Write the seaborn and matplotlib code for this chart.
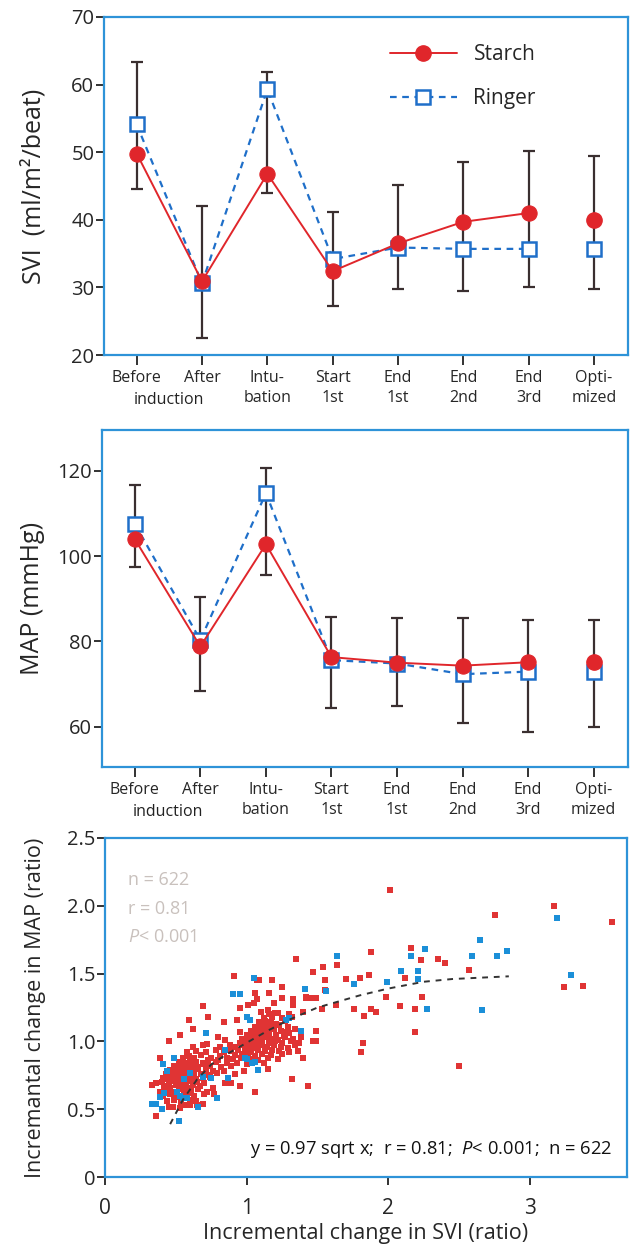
import numpy as np
import pandas as pd
import seaborn as sns
import matplotlib.pyplot as plt

# time points
time_labels = ["Before", "After", "Intu-\nbation", "Start\n1st", "End\n1st", "End\n2nd", "End\n3rd", "Opti-\nmized"]

# SVI panel
svi_starch = [49.8, 30.9, 46.8, 32.4, 36.5, 39.7, 41.0, 40.0]
svi_ringer = [54.1, 30.6, 59.3, 34.2, 35.9, 35.7, 35.7, 35.7]
svi_err_hi = [63.3, 42.0, 61.8, 41.2, 45.2, 48.5, 50.2, 49.5]
svi_err_lo = [44.5, 22.5, 44.0, 27.2, 29.7, 29.5, 30.0, 29.7]

# MAP panel
map_starch = [104.0, 78.8, 102.8, 76.3, 75.0, 74.3, 75.1, 75.1]
map_ringer = [107.6, 80.3, 114.8, 75.6, 74.8, 72.3, 72.9, 72.9]
map_err_hi = [116.7, 90.3, 120.8, 85.8, 85.4, 85.4, 85.0, 85.0]
map_err_lo = [97.5, 68.4, 95.6, 64.3, 64.8, 60.8, 58.7, 60.0]

# scatter: (SVI ratio, MAP ratio)
starch_low_cluster = [
    (0.48, 0.52), (0.53, 0.51), (0.57, 0.53), (0.66, 0.52),
    (0.44, 0.56), (0.49, 0.57), (0.54, 0.55), (0.60, 0.57), (0.64, 0.56),
    (0.41, 0.60), (0.46, 0.61), (0.50, 0.59), (0.55, 0.60), (0.59, 0.62), (0.63, 0.60), (0.70, 0.61),
    (0.39, 0.63), (0.43, 0.64), (0.47, 0.63), (0.52, 0.65), (0.56, 0.63), (0.61, 0.64), (0.66, 0.65), (0.72, 0.63),
    (0.42, 0.67), (0.46, 0.66), (0.50, 0.68), (0.54, 0.67), (0.58, 0.66), (0.62, 0.68), (0.67, 0.67), (0.76, 0.66),
    (0.36, 0.69), (0.40, 0.70), (0.45, 0.69), (0.49, 0.71), (0.53, 0.70), (0.57, 0.69), (0.61, 0.71), (0.65, 0.70), (0.70, 0.69),
    (0.41, 0.73), (0.44, 0.72), (0.48, 0.74), (0.52, 0.72), (0.56, 0.73), (0.60, 0.74), (0.64, 0.72), (0.69, 0.73), (0.74, 0.74),
    (0.43, 0.76), (0.47, 0.75), (0.51, 0.77), (0.55, 0.76), (0.59, 0.75), (0.63, 0.77), (0.68, 0.76), (0.72, 0.75), (0.79, 0.77),
    (0.46, 0.79), (0.50, 0.78), (0.54, 0.80), (0.58, 0.79), (0.62, 0.78), (0.66, 0.80), (0.71, 0.79), (0.76, 0.78),
    (0.49, 0.82), (0.53, 0.81), (0.57, 0.83), (0.61, 0.82), (0.65, 0.81), (0.70, 0.83), (0.74, 0.82), (0.82, 0.81),
    (0.52, 0.85), (0.56, 0.84), (0.60, 0.86), (0.64, 0.85), (0.69, 0.84), (0.73, 0.86), (0.78, 0.85), (0.86, 0.84),
    (0.55, 0.88), (0.59, 0.89), (0.63, 0.88), (0.68, 0.90), (0.75, 0.88), (0.81, 0.89),
    (0.58, 0.92), (0.64, 0.93), (0.71, 0.92), (0.78, 0.94), (0.84, 0.92),
    (0.62, 0.96), (0.69, 0.97), (0.81, 0.96), (0.88, 0.97),
]
starch_high_cluster = [
    (0.93, 0.84), (1.00, 0.83), (1.05, 0.85), (1.12, 0.84),
    (0.90, 0.87), (0.96, 0.88), (1.02, 0.87), (1.08, 0.86), (1.15, 0.88), (1.22, 0.87),
    (0.92, 0.90), (0.97, 0.91), (1.01, 0.90), (1.06, 0.89), (1.11, 0.91), (1.17, 0.90), (1.25, 0.91),
    (0.89, 0.93), (0.94, 0.94), (0.99, 0.93), (1.03, 0.92), (1.08, 0.94), (1.13, 0.93), (1.18, 0.94), (1.23, 0.93), (1.30, 0.92),
    (0.92, 0.96), (0.97, 0.97), (1.01, 0.96), (1.05, 0.95), (1.10, 0.97), (1.14, 0.96), (1.19, 0.97), (1.24, 0.96), (1.29, 0.95), (1.34, 0.97),
    (0.95, 0.99), (0.99, 1.00), (1.03, 0.99), (1.07, 0.98), (1.11, 1.00), (1.16, 0.99), (1.20, 1.00), (1.25, 0.99), (1.31, 1.00),
    (0.97, 1.02), (1.01, 1.03), (1.05, 1.02), (1.09, 1.01), (1.13, 1.03), (1.17, 1.02), (1.22, 1.01), (1.27, 1.03), (1.33, 1.02),
    (1.00, 1.05), (1.04, 1.06), (1.08, 1.05), (1.12, 1.04), (1.16, 1.06), (1.21, 1.05), (1.26, 1.04), (1.30, 1.06),
    (1.03, 1.08), (1.07, 1.09), (1.11, 1.08), (1.15, 1.07), (1.19, 1.09), (1.24, 1.08), (1.28, 1.07), (1.34, 1.09),
    (1.06, 1.11), (1.10, 1.12), (1.14, 1.11), (1.18, 1.10), (1.23, 1.12), (1.29, 1.11),
    (1.09, 1.14), (1.13, 1.15), (1.17, 1.14), (1.21, 1.13), (1.27, 1.15),
    (1.12, 1.17), (1.18, 1.18), (1.25, 1.17), (1.32, 1.18),
    (1.16, 1.20), (1.22, 1.21), (1.30, 1.20),
    (0.86, 0.88), (0.89, 0.82), (0.84, 0.78), (0.80, 0.86),
]
starch_spread = [
    (0.36, 0.45), (0.33, 0.68), (0.39, 0.88), (0.45, 1.00), (0.53, 1.05), (0.59, 1.16),
    (0.62, 1.09), (0.69, 1.26), (0.73, 1.18), (0.84, 1.14), (0.93, 1.16), (0.95, 1.25),
    (0.91, 1.48), (1.01, 1.27), (1.05, 1.28), (1.07, 1.31), (1.06, 1.36), (1.07, 1.45),
    (1.09, 1.45), (1.18, 1.45), (1.16, 1.36), (1.19, 1.28), (1.10, 1.22), (1.15, 1.23),
    (1.20, 1.21), (1.25, 1.40), (1.33, 1.30), (1.33, 1.27), (1.42, 1.33), (1.35, 1.61),
    (0.95, 1.07), (0.85, 1.01), (0.80, 1.03), (0.72, 0.98), (0.95, 0.67), (1.06, 0.63),
    (1.32, 0.72), (1.43, 0.67), (1.37, 0.99), (1.47, 1.00), (1.49, 1.00), (1.49, 1.08),
    (1.25, 1.32), (1.33, 1.31), (1.42, 1.32), (1.46, 1.32), (1.49, 1.32), (1.47, 1.51),
    (1.54, 1.55), (1.64, 1.56), (1.55, 1.45), (1.55, 1.38), (1.70, 1.46), (1.80, 1.47),
    (1.86, 1.49), (1.63, 1.27), (1.53, 1.24), (1.40, 1.22), (1.98, 1.33), (1.76, 1.24),
    (1.88, 1.24), (1.91, 1.22), (1.83, 1.19), (2.08, 1.26), (2.16, 1.69), (2.23, 1.60),
    (2.35, 1.61), (2.40, 1.58), (2.12, 1.47), (2.24, 1.33), (2.19, 1.24), (2.19, 1.07),
    (1.82, 0.99), (1.81, 0.92), (1.88, 1.66), (2.01, 2.12), (2.75, 1.93), (3.17, 2.00),
    (3.58, 1.88), (2.57, 1.53), (3.24, 1.40), (3.37, 1.41), (2.50, 0.82), (0.77, 0.61),
    (0.85, 0.69), (0.89, 0.69), (0.60, 0.53), (0.65, 0.53), (0.69, 0.54), (0.45, 0.52),
    (1.36, 0.93), (1.40, 0.88), (1.38, 1.03), (1.15, 0.80), (0.98, 0.78), (0.92, 0.76),
]
ringer_points = [
    (0.33, 0.54), (0.36, 0.54), (0.40, 0.50), (0.52, 0.41), (0.41, 0.83), (0.49, 0.88),
    (0.42, 0.62), (0.58, 0.58), (0.66, 0.52), (0.71, 1.06), (0.90, 1.35), (0.95, 1.35),
    (1.05, 1.47), (1.00, 1.18), (1.02, 1.16), (1.08, 0.79), (1.04, 0.84), (1.00, 0.87),
    (0.87, 0.73), (1.38, 1.08), (1.41, 1.39), (1.64, 1.63), (1.56, 1.37), (1.76, 1.42),
    (1.99, 1.44), (2.09, 1.52), (2.16, 1.63), (2.21, 1.52), (2.21, 1.46), (2.26, 1.68),
    (2.27, 1.24), (2.59, 1.63), (2.65, 1.75), (2.66, 1.23), (2.77, 1.63), (2.84, 1.67),
    (3.19, 1.91), (3.29, 1.49), (0.53, 0.60), (0.60, 0.77), (0.69, 0.74), (0.56, 0.72),
    (0.44, 0.78), (0.75, 0.73), (0.39, 0.59), (0.79, 0.58), (0.51, 0.63), (0.55, 0.58),
    (0.99, 0.88), (0.85, 0.94), (1.06, 0.85), (1.28, 1.16), (1.30, 1.17),
]

# fitted curve
fit_svi = [0.46, 0.55, 0.65, 0.75, 0.85, 1.0, 1.15, 1.3, 1.5, 1.8, 2.0, 2.25, 2.45, 2.65, 2.85]
fit_map = [0.39, 0.57, 0.72, 0.83, 0.90, 0.99, 1.08, 1.16, 1.25, 1.34, 1.39, 1.44, 1.46, 1.47, 1.48]

RED = "#e0262b"
BLUE = "#1f6fc9"
FRAME = "#2e93d8"
BAR = "#3a2f30"

sns.set_theme(style="white")
plt.rcParams['font.family'] = ['Open Sans', 'DejaVu Sans']
plt.rcParams['mathtext.fontset'] = 'custom'
plt.rcParams['mathtext.it'] = 'Open Sans:italic'
plt.rcParams['mathtext.rm'] = 'Open Sans'

fig = plt.figure(figsize=(6.32, 12.47), dpi=100)
ax1 = fig.add_axes([0.1646, 0.7153, 0.829, 0.2711])
ax2 = fig.add_axes([0.1614, 0.3849, 0.832, 0.2702])
ax3 = fig.add_axes([0.1661, 0.0561, 0.826, 0.2719])


def frame(ax):
    for s in ax.spines.values():
        s.set_color(FRAME)
        s.set_linewidth(1.6)
    ax.tick_params(axis='both', direction='out', length=6, width=1.3, color='#222222',
                   bottom=True, left=True, top=False, right=False)


def time_panel(ax, starch, ringer, hi, lo):
    pos = np.arange(len(time_labels))
    mid = [(a + b) / 2 for a, b in zip(hi, lo)]
    half = [(a - b) / 2 for a, b in zip(hi, lo)]
    ax.errorbar(pos, mid, yerr=half, fmt='none', ecolor=BAR, elinewidth=1.6,
                capsize=4, capthick=1.6, zorder=1)
    n = len(pos) - 1
    sns.lineplot(x=pos[:n], y=ringer[:n], ax=ax, color=BLUE, linestyle=(0, (3, 2.5)), lw=1.6,
                 marker='s', markersize=10, markerfacecolor='white', markeredgecolor=BLUE,
                 markeredgewidth=1.8, zorder=3)
    ax.plot(pos[n], ringer[n], marker='s', ls='none', markersize=10, mfc='white',
            mec=BLUE, mew=1.8, zorder=3)
    sns.lineplot(x=pos[:n], y=starch[:n], ax=ax, color=RED, lw=1.4, marker='o',
                 markersize=11, markeredgecolor=RED, markerfacecolor=RED, zorder=4)
    ax.plot(pos[n], starch[n], marker='o', ls='none', markersize=11, mfc=RED, mec=RED, zorder=4)
    ax.set_xlim(-0.5, 7.52)
    ax.set_xticks(pos)
    ax.set_xticklabels(time_labels, fontsize=11.5, linespacing=1.36)
    frame(ax)
    ax.tick_params(axis='x', pad=3.5, length=7)
    ax.tick_params(axis='y', labelsize=14.5, pad=1)
    ax.set_xlabel("")
    # "induction" is shared by Before / After
    ax.annotate("induction", xy=(0.5, 0), xycoords=('data', 'axes fraction'),
                xytext=(0, -32.5), textcoords='offset points', ha='center', va='center',
                fontsize=11.5, color='#222222')


time_panel(ax1, svi_starch, svi_ringer, svi_err_hi, svi_err_lo)
ax1.set_ylim(20, 70)
ax1.set_yticks([20, 30, 40, 50, 60, 70])
ax1.set_ylabel("SVI  (ml/m²/beat)", fontsize=18, labelpad=18)
h1, = ax1.plot([], [], color=RED, lw=1.4, marker='o', markersize=11, mfc=RED, mec=RED)
h2, = ax1.plot([], [], color=BLUE, lw=1.6, ls=(0, (3, 2.5)), marker='s', markersize=10,
               mfc='white', mec=BLUE, mew=1.8)
ax1.legend([h1, h2], ["Starch", "Ringer"], loc='upper right', bbox_to_anchor=(0.86, 0.975),
           frameon=False, fontsize=15, handlelength=3.2, handletextpad=0.8, labelspacing=1.1)

time_panel(ax2, map_starch, map_ringer, map_err_hi, map_err_lo)
ax2.set_ylim(50.5, 129.6)
ax2.set_yticks([60, 80, 100, 120])
ax2.set_ylabel("MAP (mmHg)", fontsize=18, labelpad=9)

# scatter panel
sx = [p[0] for p in starch_low_cluster + starch_high_cluster + starch_spread]
sy = [p[1] for p in starch_low_cluster + starch_high_cluster + starch_spread]
rx = [p[0] for p in ringer_points]
ry = [p[1] for p in ringer_points]
sns.scatterplot(x=sx, y=sy, ax=ax3, color="#e03434", marker='s', s=21, linewidth=0, zorder=2)
sns.scatterplot(x=rx, y=ry, ax=ax3, color="#1b8fd8", marker='s', s=21, linewidth=0, zorder=3)
sns.lineplot(x=fit_svi, y=fit_map, ax=ax3, color="#333333", lw=1.4, linestyle=(0, (3, 3)),
             sort=False, zorder=4)
ax3.set_xlim(0, 3.684)
ax3.set_ylim(0, 2.5)
ax3.set_xticks([0, 1, 2, 3])
ax3.set_xticklabels(["0", "1", "2", "3"], fontsize=15)
ax3.set_yticks([0, 0.5, 1.0, 1.5, 2.0, 2.5])
ax3.set_yticklabels(["0", "0.5", "1.0", "1.5", "2.0", "2.5"], fontsize=14.5)
frame(ax3)
ax3.tick_params(axis='y', pad=1)
ax3.tick_params(axis='x', pad=9)
ax3.set_xlabel("Incremental change in SVI (ratio)", fontsize=15.5, labelpad=3)
ax3.set_ylabel("Incremantal change in MAP (ratio)", fontsize=15.5, labelpad=15)
ax3.text(0.16, 2.19, "n = 622", fontsize=13, color="#c9c1bd", va='center')
ax3.text(0.16, 1.98, "r = 0.81", fontsize=13, color="#c9c1bd", va='center')
ax3.text(0.16, 1.77, r"$\mathit{P}$< 0.001", fontsize=13, color="#c9c1bd", va='center')
ax3.text(3.58, 0.2, r"y = 0.97 sqrt x;  r = 0.81;  $\mathit{P}$< 0.001;  n = 622",
         fontsize=13.2, color="#111111", ha='right', va='center')

fig.savefig("out.png", dpi=100)
